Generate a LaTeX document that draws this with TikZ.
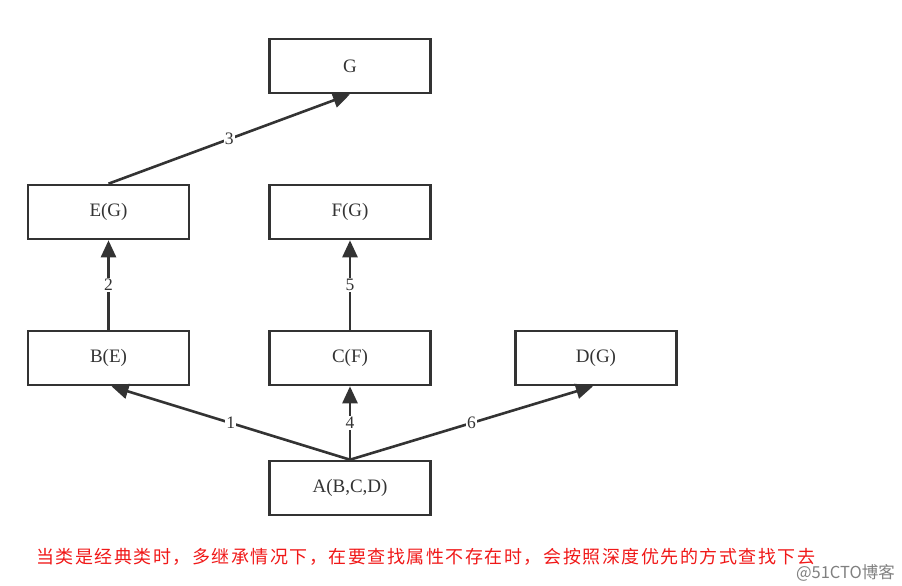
\documentclass[tikz,border=0pt]{standalone}
\usepackage{fontspec}
\setmainfont{Liberation Serif}
\newfontfamily\cjk[LetterSpace=8.4]{Noto Sans CJK SC}
\newfontfamily\cjkw{Noto Sans CJK SC}
\usetikzlibrary{arrows.meta}
\definecolor{ink}{HTML}{333333}
\definecolor{redtxt}{HTML}{F01818}
\begin{document}
\begin{tikzpicture}[x=1pt,y=-1pt,
  box/.style={draw=ink,line width=2.6pt,minimum width=161pt,minimum height=54pt,inner sep=0pt,font=\fontsize{19}{19}\selectfont,text=ink},
  edge/.style={draw=ink,line width=2.6pt,-{Triangle[length=17pt,width=15pt]}},
  lbl/.style={fill=white,inner sep=1pt,font=\fontsize{17.5}{17.5}\selectfont,text=ink}]
\useasboundingbox (0,0) rectangle (902,586);
\node[box] (G) at (350,66) {G};
\node[box] (E) at (108.5,212) {E(G)};
\node[box] (F) at (350,212) {F(G)};
\node[box] (B) at (108.5,358) {B(E)};
\node[box] (C) at (350,358) {C(F)};
\node[box] (D) at (596,358) {D(G)};
\node[box] (A) at (350,488) {A(B,C,D)};
\draw[edge] (E.north) -- node[lbl] {3} (G.south);
\draw[edge] (B.north) -- node[lbl] {2} (E.south);
\draw[edge] (C.north) -- node[lbl] {5} (F.south);
\draw[edge] (A.north) -- node[lbl] {1} ([xshift=3pt]B.south);
\draw[edge] (A.north) -- node[lbl] {4} (C.south);
\draw[edge] (A.north) -- node[lbl] {6} ([xshift=-3pt]D.south);
\node[anchor=west,inner sep=0pt,text=redtxt,font=\cjk\fontsize{18}{18}\selectfont] (note) at (36,557) {当类是经典类时，多继承情况下，在要查找属性不存在时，会按照深度优先的方式查找下去};
\node[anchor=east,inner sep=0pt,text=gray,font=\cjkw\fontsize{16.5}{16.5}\selectfont] (wm) at (895,573) {@51CTO博客};
\end{tikzpicture}
\end{document}
